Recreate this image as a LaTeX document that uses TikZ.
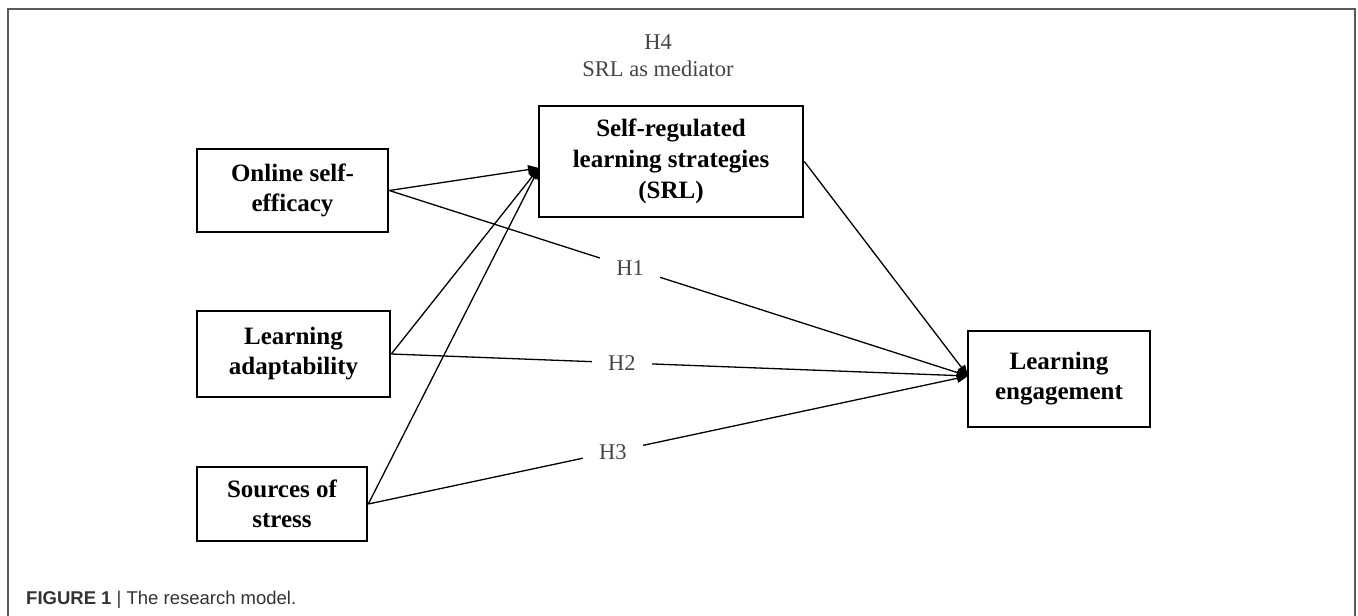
\documentclass[tikz,border=0pt]{standalone}
\usepackage{fontspec}
\setmainfont{Liberation Serif}
\newfontfamily\capfont{Liberation Sans}
\usetikzlibrary{arrows.meta}
\definecolor{labgray}{HTML}{444444}
\definecolor{framegray}{HTML}{5A5A5A}
\definecolor{capgray}{HTML}{333333}
\tikzset{
  varbox/.style={draw=black, line width=2.6pt, align=center, inner sep=2pt,
    font=\fontsize{25}{30}\selectfont\bfseries},
  conn/.style={line width=1.3pt, -{Triangle[length=11pt,width=9pt]}},
  hlab/.style={fill=white, text=labgray, inner xsep=16pt, inner ysep=3pt,
    font=\fontsize{22.5}{27}\selectfont},
}
\begin{document}
\begin{tikzpicture}[x=1pt,y=-1pt]
\useasboundingbox (0,0) rectangle (1358,616);
\fill[white] (0,0) rectangle (1358,616);
% frame
\draw[framegray, line width=1.6pt] (8,616) -- (8,9) -- (1355,9) -- (1355,616);
% boxes
\node[varbox, minimum width=191pt, minimum height=83pt] (ose) at (292.5,190.5) {Online self-\\efficacy};
\node[varbox, minimum width=193pt, minimum height=86pt] (adp) at (293.5,354) {Learning\\adaptability};
\node[varbox, minimum width=170pt, minimum height=74pt] (sos) at (282,504) {Sources of\\stress};
\node[varbox, minimum width=264pt, minimum height=111pt, font=\fontsize{25}{31}\selectfont\bfseries] (srl) at (671,161.5) {Self-regulated\\learning strategies\\(SRL)};
\node[varbox, minimum width=182pt, minimum height=96pt] (le) at (1059,379) {Learning\\engagement};
% H4 label
\node[text=labgray, align=center, font=\fontsize{22.5}{27}\selectfont] (h4) at (658,56) {H4\\SRL as mediator};
% connector endpoints
\coordinate (srlin) at (539,168);
\coordinate (lein) at (968,376);
% connectors
\draw[conn] (ose.east) -- (srlin);
\draw[conn] (adp.east) -- (srlin);
\draw[conn] (sos.east) -- (srlin);
\draw[conn] (srl.east) -- (lein);
\draw[conn] (ose.east) -- node[hlab, pos=0.416] (h1) {H1} (lein);
\draw[conn] (adp.east) -- node[hlab, pos=0.40] (h2) {H2} (lein);
\draw[conn] (sos.east) -- node[hlab, pos=0.408] (h3) {H3} (lein);
% caption
\node[anchor=base west, inner sep=0pt, text=capgray, font=\capfont\fontsize{18.5}{22}\selectfont] (cap) at (26,604) {\textbf{FIGURE 1} | The research model.};
\end{tikzpicture}
\end{document}
